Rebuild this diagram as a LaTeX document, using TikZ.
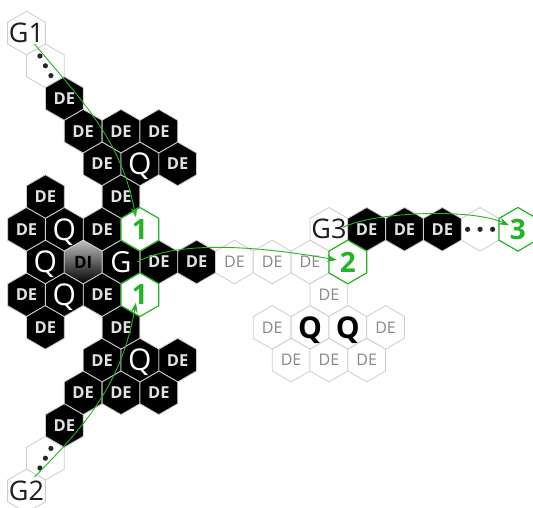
\documentclass[tikz,border=0pt]{standalone}
\usepackage{fontspec}
\setmainfont{Open Sans}
\usetikzlibrary{shapes.geometric,arrows.meta,calc}
\definecolor{grn}{RGB}{34,180,34}
\definecolor{edgeL}{RGB}{205,205,205}
\definecolor{deL}{RGB}{225,225,225}
\definecolor{ltxt}{RGB}{135,135,135}
\definecolor{gtxt}{RGB}{30,30,30}
\tikzset{
  hexb/.style={regular polygon, regular polygon sides=6, shape border rotate=30,
    minimum size=43.6pt, inner sep=0pt, outer sep=0pt, line width=0.8pt},
  blk/.style={hexb, fill=black, draw=edgeL},
  wht/.style={hexb, fill=white, draw=edgeL},
  grnhex/.style={hexb, fill=white, draw=grn, line width=1.2pt},
  dihex/.style={hexb, draw=edgeL, top color=black!25, bottom color=black},
  txt/.style={inner sep=0pt, outer sep=0pt, text depth=0pt},
  detxt/.style={txt, font=\fontsize{16.5}{16.5}\selectfont\bfseries, text=deL, text height=11.8pt},
  ditxt/.style={txt, font=\fontsize{17}{17}\selectfont\bfseries, text=black, text height=12.1pt},
  qtxt/.style={txt, font=\fontsize{30}{30}\selectfont, text=white, text height=21.4pt},
  gtx/.style={txt, font=\fontsize{29}{29}\selectfont, text=white, text height=20.7pt},
  gntxt/.style={txt, font=\fontsize{27}{27}\selectfont, text=gtxt, text height=19.3pt},
  numtxt/.style={txt, font=\fontsize{28}{28}\selectfont\bfseries, text=grn, text height=20pt},
  ldetxt/.style={txt, font=\fontsize{16}{16}\selectfont, text=ltxt, text height=11.4pt},
  lqtxt/.style={txt, font=\fontsize{30}{30}\selectfont\bfseries, text=black, text height=21.4pt},
  arr/.style={draw=grn, line width=0.9pt, -{Stealth[length=10pt,width=7pt]}},
  dot/.style={fill=black!85}
}
\newcommand\HXT[6]{\node[#1] (#3) at ({121+18.9*(#4)},{-262+32.7*(#5)}) {};
  \node[#2] (#3t) at (#3.center) {#6};}
\newcommand\HXE[4]{\node[#1] (#2) at ({121+18.9*(#3)},{-262+32.7*(#4)}) {};}
\begin{document}
\begin{tikzpicture}[x=1pt,y=1pt]
\useasboundingbox (0,0) rectangle (533,-507);
\clip (0,0) rectangle (533,-507);
% white / light hexes
\HXT{wht}{gntxt}{g1}{-5}{7}{G1}
\HXE{wht}{dotsA}{-4}{6}
\HXE{wht}{dotsB}{-4}{-6}
\HXT{wht}{gntxt}{g2}{-5}{-7}{G2}
\HXT{wht}{gntxt}{g3}{11}{1}{G3}
\HXE{wht}{dotsC}{19}{1}
\HXT{wht}{ldetxt}{l1}{6}{0}{DE}
\HXT{wht}{ldetxt}{l2}{8}{0}{DE}
\HXT{wht}{ldetxt}{l3}{10}{0}{DE}
\HXT{wht}{ldetxt}{l4}{11}{-1}{DE}
\HXT{wht}{ldetxt}{l5}{8}{-2}{DE}
\HXT{wht}{lqtxt}{lq1}{10}{-2}{Q}
\HXT{wht}{lqtxt}{lq2}{12}{-2}{Q}
\HXT{wht}{ldetxt}{l6}{14}{-2}{DE}
\HXT{wht}{ldetxt}{l7}{9}{-3}{DE}
\HXT{wht}{ldetxt}{l8}{11}{-3}{DE}
\HXT{wht}{ldetxt}{l9}{13}{-3}{DE}
% black DE hexes
\HXT{blk}{detxt}{d1}{-3}{5}{DE}
\HXT{blk}{detxt}{d2}{-2}{4}{DE}
\HXT{blk}{detxt}{d3}{0}{4}{DE}
\HXT{blk}{detxt}{d4}{2}{4}{DE}
\HXT{blk}{detxt}{d5}{-1}{3}{DE}
\HXT{blk}{detxt}{d6}{3}{3}{DE}
\HXT{blk}{detxt}{d7}{-4}{2}{DE}
\HXT{blk}{detxt}{d8}{0}{2}{DE}
\HXT{blk}{detxt}{d9}{-5}{1}{DE}
\HXT{blk}{detxt}{d10}{-1}{1}{DE}
\HXT{blk}{detxt}{d11}{2}{0}{DE}
\HXT{blk}{detxt}{d12}{4}{0}{DE}
\HXT{blk}{detxt}{d13}{-5}{-1}{DE}
\HXT{blk}{detxt}{d14}{-1}{-1}{DE}
\HXT{blk}{detxt}{d15}{-4}{-2}{DE}
\HXT{blk}{detxt}{d16}{0}{-2}{DE}
\HXT{blk}{detxt}{d17}{-1}{-3}{DE}
\HXT{blk}{detxt}{d18}{3}{-3}{DE}
\HXT{blk}{detxt}{d19}{-2}{-4}{DE}
\HXT{blk}{detxt}{d20}{0}{-4}{DE}
\HXT{blk}{detxt}{d21}{2}{-4}{DE}
\HXT{blk}{detxt}{d22}{-3}{-5}{DE}
\HXT{blk}{detxt}{d23}{13}{1}{DE}
\HXT{blk}{detxt}{d24}{15}{1}{DE}
\HXT{blk}{detxt}{d25}{17}{1}{DE}
% black Q hexes
\HXT{blk}{qtxt}{q1}{1}{3}{Q}
\HXT{blk}{qtxt}{q2}{-3}{1}{Q}
\HXT{blk}{qtxt}{q3}{-4}{0}{Q}
\HXT{blk}{qtxt}{q4}{-3}{-1}{Q}
\HXT{blk}{qtxt}{q5}{1}{-3}{Q}
% G and DI
\HXT{blk}{gtx}{gg}{0}{0}{G}
\HXT{dihex}{ditxt}{di}{-2}{0}{DI}
% green hexes
\HXT{grnhex}{numtxt}{oneA}{1}{1}{1}
\HXT{grnhex}{numtxt}{oneB}{1}{-1}{1}
\HXT{grnhex}{numtxt}{two}{12}{0}{2}
\HXT{grnhex}{numtxt}{three}{21}{1}{3}
% dots
\foreach \s in {-1,0,1}{
  \fill[dot] ([shift={(\s*5.5,-\s*9.8)}]dotsA.center) circle (2.6pt);
  \fill[dot] ([shift={(\s*5.5,\s*9.8)}]dotsB.center) circle (2.6pt);
  \fill[dot] ([shift={(\s*12.5,0)}]dotsC.center) circle (2.6pt);
}
% arrows
\draw[arr] ([shift={(8,-11)}]g1.center) to[out=-50,in=101] ([shift={(-4,12)}]oneA.center);
\draw[arr] ([shift={(8,14)}]g2.center) to[out=45,in=-100] ([shift={(-4,-8)}]oneB.center);
\draw[arr] ([shift={(16,0)}]gg.center) to[out=28,in=170,looseness=0.7] ([shift={(-11,2)}]two.center);
\draw[arr] ([shift={(14,2)}]g3.center) to[out=25,in=155,looseness=0.6] ([shift={(-9,4)}]three.center);
\end{tikzpicture}
\end{document}
